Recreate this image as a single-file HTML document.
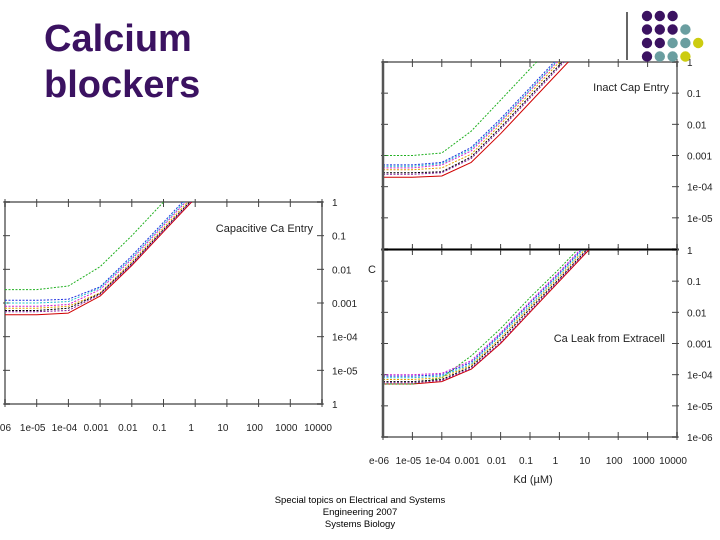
<!DOCTYPE html>
<html><head><meta charset="utf-8"><style>
body{margin:0;width:720px;height:540px;background:#fff;overflow:hidden;font-family:"Liberation Sans",sans-serif;}
#title{position:absolute;left:44px;top:16px;color:#3b1261;font-weight:bold;font-size:38px;line-height:46px;margin:0;}
#footer{position:absolute;left:250px;width:220px;top:495px;text-align:center;font-size:9.5px;line-height:12px;color:#000;}
svg{position:absolute;left:0;top:0;}
</style></head><body>
<h1 id="title">Calcium<br>blockers</h1>
<div id="footer">Special topics on Electrical and Systems Engineering 2007<br>Systems Biology</div>
<svg id="s" width="720" height="540"></svg>
<script>
// decade exponents for x (Kd) data points
const xExp = [-6,-5,-4,-3,-2,-1,0,1,2];
const xTickLabels = ["e-06","1e-05","1e-04","0.001","0.01","0.1","1","10","100","1000","10000"];
const yTickLabelsL = ["1","0.1","0.01","0.001","1e-04","1e-05","1"];
const yTickLabelsTop = ["1","0.1","0.01","0.001","1e-04","1e-05",""];
const yTickLabelsR = ["1","0.1","0.01","0.001","1e-04","1e-05","1e-06"];
const seriesColors = ["#d00000","#20b020","#2030e0","#d020d0","#20c0d0","#e0a000","#000000","#8020a0"];
// Capacitive Ca Entry
const capRed=[0.00045,0.00045,0.0005,0.0016,0.013,0.13,1.3,13,130];
const capGreen=[0.0025,0.0025,0.0032,0.012,0.1,1.0,10,100,1000];
const capBlue=[0.0012,0.0012,0.0013,0.003,0.025,0.25,2.5,25,250];
const capMagenta=[0.0008,0.0008,0.0009,0.0025,0.02,0.2,2,20,200];
const capCyan=[0.001,0.001,0.0011,0.0028,0.022,0.22,2.2,22,220];
const capOrange=[0.0007,0.0007,0.0008,0.002,0.017,0.17,1.7,17,170];
const capBlack=[0.0006,0.0006,0.0007,0.0019,0.015,0.15,1.5,15,150];
const capPurple=[0.00055,0.00055,0.0006,0.0018,0.014,0.14,1.4,14,140];
// Inact Cap Entry
const inaRed=[0.0002,0.0002,0.00022,0.0006,0.005,0.05,0.5,5,50];
const inaGreen=[0.001,0.001,0.0012,0.006,0.06,0.6,6,60,600];
const inaBlue=[0.0005,0.0005,0.0006,0.0018,0.015,0.15,1.5,15,150];
const inaMagenta=[0.0004,0.0004,0.0005,0.0014,0.012,0.12,1.2,12,120];
const inaCyan=[0.00045,0.00045,0.00055,0.0016,0.013,0.13,1.3,13,130];
const inaOrange=[0.00035,0.00035,0.0004,0.0011,0.01,0.1,1,10,100];
const inaBlack=[0.00028,0.00028,0.0003,0.0009,0.008,0.08,0.8,8,80];
const inaPurple=[0.00025,0.00025,0.00028,0.0008,0.007,0.07,0.7,7,70];
// Ca Leak from Extracell
const lkRed=[5e-5,5e-5,6e-5,1.5e-4,0.001,0.01,0.1,1,10];
const lkGreen=[5e-5,5e-5,8e-5,4e-4,0.003,0.03,0.25,2.5,25];
const lkBlue=[9e-5,9e-5,1e-4,2.5e-4,0.002,0.02,0.18,1.8,18];
const lkMagenta=[1e-4,1e-4,1.1e-4,2.8e-4,0.0022,0.022,0.2,2,20];
const lkCyan=[8e-5,8e-5,9e-5,2.2e-4,0.0018,0.017,0.16,1.6,16];
const lkOrange=[7e-5,7e-5,8e-5,2e-4,0.0015,0.015,0.14,1.4,14];
const lkBlack=[6e-5,6e-5,7e-5,1.8e-4,0.0013,0.013,0.12,1.2,12];
const lkPurple=[5.5e-5,5.5e-5,6.5e-5,1.6e-4,0.0011,0.011,0.11,1.1,11];

const NS="http://www.w3.org/2000/svg";
const svg=document.getElementById('s');
function mk(t,a,p){const e=document.createElementNS(NS,t);for(const k in a)e.setAttribute(k,a[k]);(p||svg).appendChild(e);return e;}
let cid=0;
function chart(name,x0,x1,yt,yb,series,yLabels,title,tx,ty,showXLabels){
  const g=mk('g',{});
  
  
  const X=e=>x0+(e+6)/10*(x1-x0);
  const Y=v=>yb-(Math.log10(v)+6)/6*(yb-yt);
  const id='c'+(cid++);
  const cp=mk('clipPath',{id:id},g);mk('rect',{x:x0,y:yt,width:x1-x0,height:yb-yt},cp);
  mk('rect',{x:x0,y:yt,width:x1-x0,height:yb-yt,fill:'none',stroke:'#888','stroke-width':2},g);
  for(let i=0;i<=10;i++){const x=X(i-6);
    mk('line',{x1:x,y1:yt-3,x2:x,y2:yt+5,stroke:'#444'},g);mk('line',{x1:x,y1:yb+3,x2:x,y2:yb-5,stroke:'#444'},g);
    if(showXLabels){const t=mk('text',{x:x-4,y:yb+27,'font-size':10,'text-anchor':'middle',fill:'#222'},g);t.textContent=xTickLabels[i];
      
      }
  }
  for(let j=0;j<=6;j++){const y=yt+j*(yb-yt)/6;
    mk('line',{x1:x0-2,y1:y,x2:x0+5,y2:y,stroke:'#444'},g);mk('line',{x1:x1+2,y1:y,x2:x1-5,y2:y,stroke:'#444'},g);
    const t=mk('text',{x:x1+10,y:y+4,'font-size':10,fill:'#222'},g);t.textContent=yLabels[j];
    
    
  }
  const pg=mk('g',{'clip-path':'url(#'+id+')'},g);
  series.forEach((s,k)=>{
    const d=s.map((v,i)=>(i?'L':'M')+X(xExp[i]).toFixed(1)+','+Y(v).toFixed(1)).join('');
    const p=mk('path',{d:d,fill:'none',stroke:seriesColors[k],'stroke-width':1,'stroke-dasharray':k==0?'none':'2,1.5','stroke-linejoin':'round'},pg);
    
    
  });
  const tt=mk('text',{x:tx,y:ty,'font-size':11,'text-anchor':'end',fill:'#222'},g);tt.textContent=title;
  
  
}
chart('chart-capacitive-ca-entry',5,322,202,404,[capRed,capGreen,capBlue,capMagenta,capCyan,capOrange,capBlack,capPurple],yTickLabelsL,'Capacitive Ca Entry',313,232,true);
chart('chart-inact-cap-entry',383,677,62,249,[inaRed,inaGreen,inaBlue,inaMagenta,inaCyan,inaOrange,inaBlack,inaPurple],yTickLabelsTop,'Inact Cap Entry',669,91,false);
chart('chart-ca-leak',383,677,250,437,[lkRed,lkGreen,lkBlue,lkMagenta,lkCyan,lkOrange,lkBlack,lkPurple],yTickLabelsR,'Ca Leak from Extracell',665,342,true);
mk('line',{x1:383,y1:249.5,x2:677,y2:249.5,stroke:'#000','stroke-width':1.2});
mk('line',{x1:383,y1:62,x2:383,y2:437,stroke:'#555','stroke-width':2.5});
const kd=mk('text',{x:533,y:483,'font-size':11,'text-anchor':'middle',fill:'#222'});kd.textContent='Kd (\u00b5M)';


const cl=mk('text',{x:368,y:273,'font-size':11,fill:'#222'});cl.textContent='C';


// logo
mk('line',{x1:627,y1:12,x2:627,y2:60,stroke:'#000','stroke-width':1.2});
const P='#3b1261',T='#6a9ea0',Yl='#cccc10';
const rows=[[P,P,P],[P,P,P,T],[P,P,T,T,Yl],[P,T,T,Yl]];
rows.forEach((r,i)=>r.forEach((c,j)=>{const d=mk('circle',{cx:647+j*12.8,cy:16+i*13.5,r:5.2,fill:c});
  
  }));
</script>
</body></html>
